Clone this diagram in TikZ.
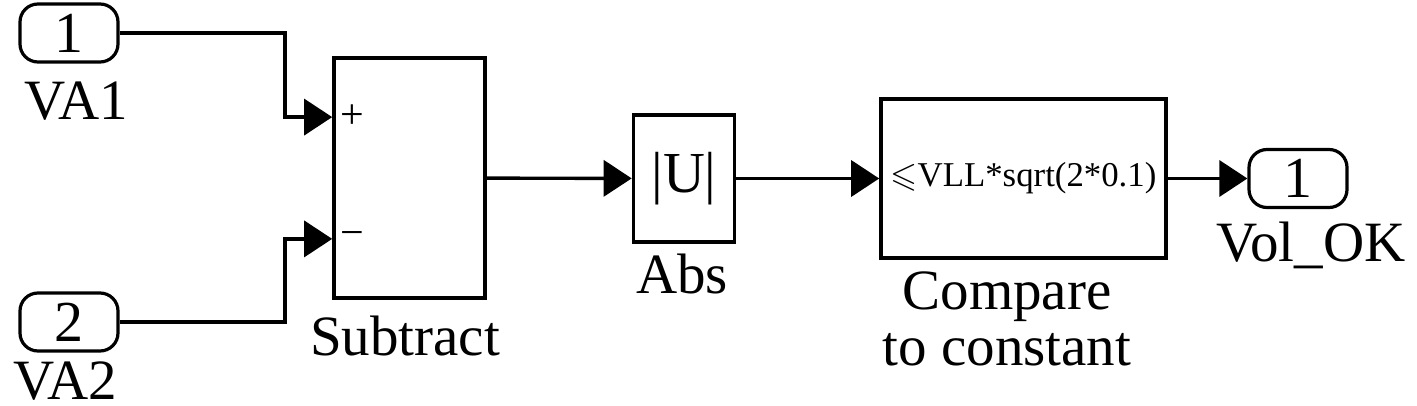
\documentclass[tikz,border=0pt]{standalone}
\usepackage{amsmath,amssymb}
\usepackage{fontspec}
\setmainfont{Liberation Serif}
\usetikzlibrary{arrows.meta,positioning,calc}
\tikzset{
  port/.style = {draw, line width=1.6pt, rounded corners=9pt, minimum width=49pt, minimum height=29pt, inner sep=0pt, font=\fontsize{29}{30}\selectfont},
  blk/.style = {draw, line width=1.8pt, inner sep=0pt},
  lbl/.style = {anchor=base, inner sep=0pt, font=\fontsize{28.5}{28}\selectfont},
  sgn/.style = {anchor=west, inner sep=0pt, font=\fontsize{21}{21}\selectfont},
  sig/.style = {line width=1.7pt, -{Triangle[length=14pt,width=18pt]}},
}

\begin{document}
\begin{tikzpicture}[x = 0.5pt, y = -0.5pt]
    \useasboundingbox (0,0) rectangle (1417,406);
    \node[port] (va1) at (69,33) {1};
    \node[port] (va2) at (69,322) {2};
    \node[blk, minimum width = 75.5pt, minimum height = 120pt] (sub) at (409.5,178) {};
    \node[blk, minimum width = 50.5pt, minimum height = 63.5pt, font = \fontsize{29}{30}\selectfont] (abs) at (684,178.5) {|U|};
    \node[blk, minimum width = 142.5pt, minimum height = 79.5pt, font = \fontsize{17.4}{18}\selectfont] (cmp) at (1023.5,178.5) {$\leqslant$VLL*sqrt(2*0.1)};
    \node[port] (ok) at (1298,178.5) {1};
    \coordinate (subp) at ($(sub.north west)!.25!(sub.south west)$);
    \coordinate (subm) at ($(sub.north west)!.75!(sub.south west)$);
    \coordinate (j) at (285,0);
    \node[sgn] (plus) at ([xshift = 4pt]subp) {+};
    \node[sgn] (minus) at ([xshift = 4pt]subm) {−};
    \node[lbl] (lva1) at (76,120) {VA1};
    \node[lbl] (lva2) at (65,399) {VA2};
    \node[lbl] (lsub) at (405,355) {Subtract};
    \node[lbl] (labs) at (682,293) {Abs};
    \node[lbl, anchor = north, align = center] (lcmp) at (1007,271) {Compare\\to constant};
    \node[lbl] (lok) at (1311,262) {Vol\_OK};
    \draw[sig] (va1.east) -| (j |- subp) -- (subp);
    \draw[sig] (va2.east) -| (j |- subm) -- (subm);
    \draw[sig] (sub) -- (abs);
    \draw[sig] (abs) -- (cmp);
    \draw[sig] (cmp) -- (ok);
\end{tikzpicture}
\end{document}
